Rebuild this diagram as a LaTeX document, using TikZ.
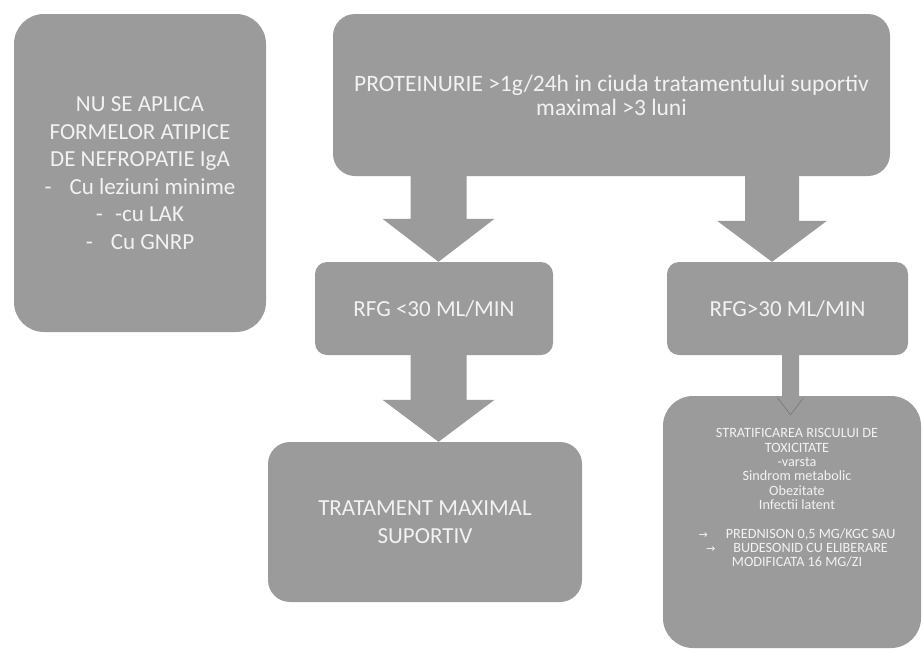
\documentclass[tikz,border=0pt]{standalone}
\usepackage{fontspec}
\setmainfont{Carlito}
\newfontfamily\arrowfont{DejaVu Sans}
\usetikzlibrary{calc}
\definecolor{boxgray}{RGB}{155,155,155}
\definecolor{txtwhite}{RGB}{242,242,242}
% start, end, shaft half width, head half width, head length
\newcommand{\blockarrow}[5]{%
  \fill[boxgray] ($(#1)+(-#3,0)$) -- ($(#2)+(-#3,-#5)$) -- ($(#2)+(-#4,-#5)$) -- (#2)
    -- ($(#2)+(#4,-#5)$) -- ($(#2)+(#3,-#5)$) -- ($(#1)+(#3,0)$) -- cycle;}
\begin{document}
\begin{tikzpicture}[x=1pt,y=-1pt,
  box/.style={fill=boxgray, text=txtwhite, align=center, inner sep=0pt, draw=none},
  bigtext/.style={font=\fontsize{23}{27.5}\selectfont},
  smalltext/.style={font=\fontsize{14.2}{14.3}\selectfont, text=txtwhite, align=center, inner sep=0pt}]
\useasboundingbox (0,0) rectangle (923,651);
\fill[white] (0,0) rectangle (923,651);

\node[box, bigtext, rounded corners=30pt, minimum width=252pt, minimum height=318pt] (left) at (140,173)
  {NU SE APLICA\\FORMELOR ATIPICE\\DE NEFROPATIE IgA\\-\hspace{18pt}Cu leziuni minime\\-\hspace{12pt}-cu LAK\\-\hspace{18pt}Cu GNRP};

\node[box, rounded corners=22pt, minimum width=557pt, minimum height=162pt, font=\fontsize{23.5}{24}\selectfont] (top) at (611.5,95)
  {PROTEINURIE >1g/24h in ciuda tratamentului suportiv\\maximal >3 luni};

\node[box, bigtext, rounded corners=12pt, minimum width=238pt, minimum height=93pt] (rl) at (434,308.5) {RFG <30 ML/MIN};
\node[box, bigtext, rounded corners=12pt, minimum width=241pt, minimum height=93pt] (rr) at (787.5,308.5) {RFG>30 ML/MIN};

\node[box, bigtext, rounded corners=22pt, minimum width=314pt, minimum height=160pt] (trat) at (425,522)
  {TRATAMENT MAXIMAL\\SUPORTIV};

\node[box, rounded corners=30pt, minimum width=258pt, minimum height=252pt] (strat) at (792,522) {};
\node[smalltext] (strattext) at (797,498)
  {STRATIFICAREA RISCULUI DE\\TOXICITATE\\-varsta\\Sindrom metabolic\\Obezitate\\Infectii latent\\[14.3pt]
   {\arrowfont\fontsize{11}{14.3}\selectfont →}\hspace{18pt}PREDNISON 0,5 MG/KGC SAU\\
   {\arrowfont\fontsize{11}{14.3}\selectfont →}\hspace{18pt}BUDESONID CU ELIBERARE\\
   MODIFICATA 16 MG/ZI};

% block arrows
\coordinate (a1s) at (438.5,0 |- top.south);
\coordinate (a1e) at (438.5,0 |- rl.north);
\blockarrow{a1s}{a1e}{28}{56}{43}
\coordinate (a2s) at (772,0 |- top.south);
\coordinate (a2e) at (772,0 |- rr.north);
\blockarrow{a2s}{a2e}{27}{55}{41}
\coordinate (a3s) at (438.5,0 |- rl.south);
\coordinate (a3e) at (438.5,0 |- trat.north);
\blockarrow{a3s}{a3e}{28}{56}{42}
\coordinate (a4s) at (790.5,0 |- rr.south);
\coordinate (a4e) at ($(790.5,0 |- strat.north)+(0,19)$);
\blockarrow{a4s}{a4e}{8.5}{13}{17}
\draw[black!55, line width=0.5pt] ($(a4e)+(-13,-17)$) -- (a4e) -- ($(a4e)+(13,-17)$);
\end{tikzpicture}
\end{document}
